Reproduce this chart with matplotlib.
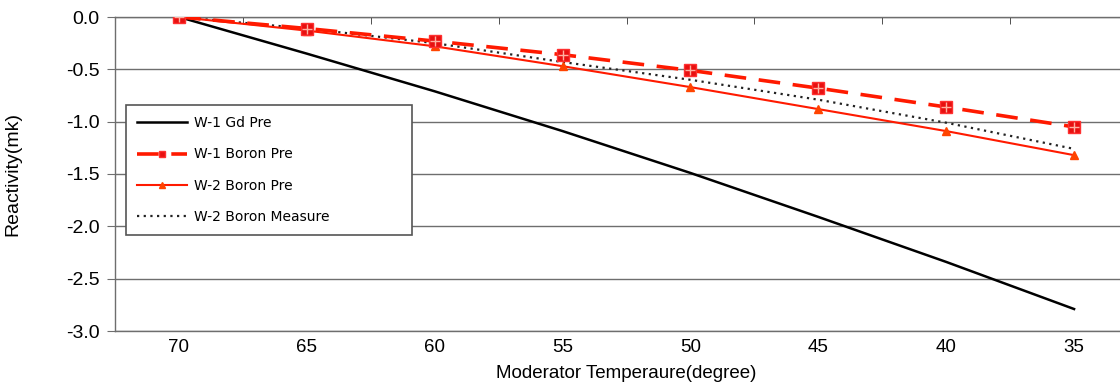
import matplotlib.pyplot as plt
import numpy as np

temps = [70, 65, 60, 55, 50, 45, 40, 35]
w1_gd_pre = [0.0, -0.35, -0.71, -1.09, -1.49, -1.91, -2.34, -2.79]
w1_boron_pre = [0.0, -0.11, -0.23, -0.36, -0.51, -0.68, -0.86, -1.05]
w2_boron_pre = [0.0, -0.13, -0.28, -0.47, -0.67, -0.88, -1.09, -1.32]
w2_boron_measure = [0.0, -0.11, -0.25, -0.43, -0.60, -0.79, -1.01, -1.26]
yticks = [0.0, -0.5, -1.0, -1.5, -2.0, -2.5, -3.0]

plt.rcParams['font.family'] = ['Liberation Sans', 'DejaVu Sans']

W, H = 1120, 390
fig = plt.figure(figsize=(W / 100, H / 100), dpi=100)
# category axis extends past the right edge of the picture (cropped)
ax = fig.add_axes([115 / W, (H - 331) / H, 1023 / W, 314 / H])

pos = np.arange(len(temps))
grid_c = '#6e6e6e'

for y in yticks:
    ax.axhline(y, color=grid_c, lw=1.0, zorder=1)

ax.plot(pos, w1_gd_pre, color='black', lw=1.8, label='W-1 Gd Pre', zorder=3)
ax.plot(pos, w2_boron_measure, color='#222222', lw=1.6, ls=(0, (1, 2)),
        label='W-2 Boron Measure', zorder=4)
ax.plot(pos, w2_boron_pre, color='#ff1a00', lw=1.5, marker='^', ms=6,
        mfc='#ff4400', mec='#ff4400', label='W-2 Boron Pre', zorder=5)
ax.plot(pos, w1_boron_pre, color='#ff1a00', lw=2.6, ls=(0, (6, 3.5)),
        marker='s', ms=9, mfc='#e81010', mec='#ff3030',
        label='W-1 Boron Pre', zorder=6)
ax.plot(pos, w1_boron_pre, ls='none', marker='+', ms=7, mew=1.0,
        color='#ffb0a0', zorder=7)

ax.set_xlim(-0.5, len(temps) - 0.5)
ax.set_ylim(-3.0, 0.0)

ax.set_xticks(pos)
ax.set_xticklabels([str(t) for t in temps], fontsize=13.5)
ax.set_xticks(pos[:-1] + 0.5, minor=True)
ax.tick_params(axis='x', which='major', length=0, pad=6)
ax.tick_params(axis='x', which='minor', top=True, bottom=False, direction='in',
               length=5, color='#333333')

ax.set_yticks(yticks)
ax.set_yticklabels([f'{v:.1f}' for v in yticks], fontsize=14)
ax.tick_params(axis='y', length=6, color=grid_c, pad=5)

ax.spines['right'].set_visible(False)
for side in ['left', 'top', 'bottom']:
    ax.spines[side].set_color(grid_c)
    ax.spines[side].set_linewidth(1.0)

ax.set_xlabel('Moderator Temperaure(degree)', fontsize=13.5, labelpad=6)
ax.set_ylabel('Reactivity(mk)', fontsize=14, labelpad=32)

handles, labels = ax.get_legend_handles_labels()
order = [0, 3, 2, 1]
leg = fig.legend([handles[i] for i in order], [labels[i] for i in order],
                 loc='upper left',
                 bbox_to_anchor=(126 / W, 1 - 231 / H, 286 / W, 126 / H),
                 mode='expand', fancybox=False, framealpha=1,
                 edgecolor='#555555', prop={'family': 'DejaVu Sans', 'size': 10},
                 handlelength=3.6, labelspacing=1.25, borderpad=0.8,
                 handletextpad=0.5, borderaxespad=0)
leg.get_frame().set_linewidth(1.2)
for h in leg.legend_handles:
    h.set_markersize(5)

fig.savefig('out.png', dpi=100)
